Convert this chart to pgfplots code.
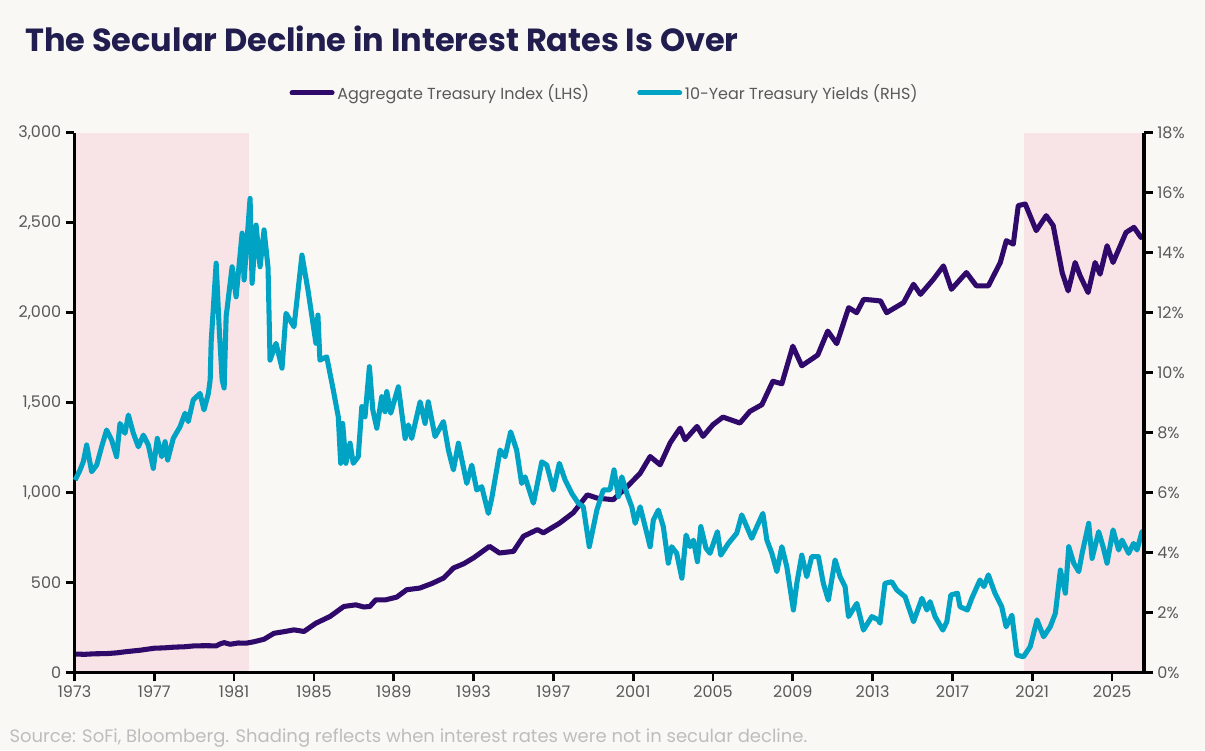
\documentclass[border=0pt]{standalone}
\usepackage{fontspec}
\setmainfont{Poppins}
\usepackage{pgfplots}
\pgfplotsset{compat=1.18}
\definecolor{bg}{HTML}{F9F8F5}
\definecolor{shadecol}{HTML}{F8E4E6}
\definecolor{purp}{HTML}{300A6A}
\definecolor{tealc}{HTML}{00A3C4}
\definecolor{titlecol}{HTML}{211D4E}
\definecolor{txtgray}{HTML}{595959}
\definecolor{srcgray}{HTML}{BDBDBD}

\pgfplotstableread{
x y
1973.0 104
1973.5 102
1974.0 105
1974.6 106
1975.1 110
1975.6 117
1976.3 125
1977.0 136
1977.5 138
1978.0 142
1978.5 144
1979.0 149
1979.6 150
1980.1 149
1980.3 160
1980.5 167
1980.8 158
1981.2 165
1981.6 164
1982.0 172
1982.5 186
1983.0 219
1983.5 228
1984.0 238
1984.5 229
1985.1 275
1985.8 312
1986.5 368
1987.1 377
1987.5 365
1987.8 368
1988.1 405
1988.6 405
1989.15 420
1989.65 461
1990.3 470
1990.9 495
1991.5 526
1992.0 582
1992.5 605
1993.0 638
1993.8 702
1994.3 665
1995.0 674
1995.5 758
1996.2 795
1996.5 777
1997.3 830
1998.0 889
1998.7 988
1999.2 970
2000.0 961
2000.7 1034
2001.35 1108
2001.85 1201
2002.35 1155
2002.85 1276
2003.35 1359
2003.6 1294
2004.2 1368
2004.5 1313
2005.0 1378
2005.5 1420
2006.35 1387
2006.85 1452
2007.45 1489
2008.0 1619
2008.45 1605
2009.0 1814
2009.45 1705
2010.25 1765
2010.75 1898
2011.2 1828
2011.8 2028
2012.2 2000
2012.55 2074
2013.0 2070
2013.4 2065
2013.7 2000
2014.55 2056
2015.05 2158
2015.4 2102
2016.05 2186
2016.55 2260
2016.95 2130
2017.7 2223
2018.2 2149
2018.8 2149
2019.4 2279
2019.7 2400
2020.05 2381
2020.3 2595
2020.65 2604
2021.2 2456
2021.7 2539
2022.05 2484
2022.5 2223
2022.8 2121
2023.15 2279
2023.4 2205
2023.8 2112
2024.15 2279
2024.4 2214
2024.75 2372
2025.05 2279
2025.7 2446
2026.1 2474
2026.45 2418
2026.6 2430
}\indextable

\pgfplotstableread{
x y
1973.03 6.42
1973.28 6.76
1973.44 7.03
1973.61 7.59
1973.86 6.70
1974.11 6.92
1974.36 7.53
1974.61 8.09
1974.86 7.76
1975.11 7.20
1975.28 8.31
1975.53 7.98
1975.70 8.59
1975.95 7.98
1976.20 7.53
1976.45 7.92
1976.70 7.59
1976.95 6.81
1977.15 7.81
1977.37 7.20
1977.54 7.70
1977.67 7.09
1977.95 7.81
1978.29 8.20
1978.54 8.65
1978.70 8.37
1978.95 9.09
1979.29 9.31
1979.49 8.76
1979.71 9.31
1979.80 9.76
1979.85 11.03
1980.10 13.65
1980.25 11.50
1980.40 9.76
1980.50 9.49
1980.60 11.87
1980.90 13.53
1981.10 12.53
1981.40 14.65
1981.50 13.09
1981.80 15.81
1981.90 12.98
1982.10 14.92
1982.30 13.53
1982.50 14.76
1982.70 13.50
1982.80 10.42
1983.10 10.98
1983.40 10.15
1983.60 11.98
1984.00 11.53
1984.40 13.92
1984.70 12.76
1985.10 10.98
1985.20 11.92
1985.30 10.42
1985.64 10.53
1985.97 9.42
1986.22 8.53
1986.34 6.98
1986.44 8.31
1986.60 6.98
1986.81 7.65
1986.97 6.98
1987.22 7.20
1987.40 8.87
1987.56 8.53
1987.78 10.20
1987.95 8.76
1988.15 8.15
1988.40 9.20
1988.56 8.70
1988.65 9.37
1988.85 8.65
1989.23 9.53
1989.57 7.81
1989.73 8.26
1989.90 7.81
1990.32 9.03
1990.57 8.31
1990.73 9.03
1991.07 7.87
1991.49 8.37
1991.74 7.42
1991.99 6.76
1992.24 7.65
1992.66 6.31
1992.91 6.92
1993.16 6.09
1993.41 6.20
1993.74 5.31
1993.91 5.81
1994.33 7.42
1994.58 7.20
1994.86 8.03
1995.16 7.42
1995.41 6.31
1995.58 6.53
1996.00 5.65
1996.42 7.03
1996.67 6.92
1997.00 6.09
1997.30 6.98
1997.59 6.42
1997.92 5.98
1998.25 5.65
1998.50 5.53
1998.80 4.20
1999.18 5.42
1999.50 6.09
1999.84 6.10
2000.04 6.76
2000.26 5.87
2000.43 6.53
2000.68 5.98
2000.93 5.53
2001.10 4.98
2001.35 5.53
2001.60 4.87
2001.85 4.20
2002.01 5.09
2002.26 5.42
2002.51 4.87
2002.76 3.65
2002.93 4.20
2003.18 3.98
2003.44 3.15
2003.65 4.59
2003.85 4.20
2004.02 4.42
2004.22 3.70
2004.39 4.87
2004.65 4.15
2004.85 3.98
2005.22 4.70
2005.39 3.92
2005.77 4.31
2006.19 4.65
2006.44 5.26
2006.69 4.87
2006.94 4.48
2007.20 4.87
2007.50 5.31
2007.70 4.42
2007.95 3.98
2008.20 3.37
2008.45 4.20
2008.70 3.53
2009.03 2.09
2009.20 2.98
2009.45 3.92
2009.70 3.20
2009.95 3.87
2010.28 3.87
2010.53 2.98
2010.78 2.42
2011.12 3.76
2011.37 3.20
2011.62 2.87
2011.79 1.87
2012.21 2.31
2012.54 1.42
2012.96 1.87
2013.29 1.76
2013.37 1.65
2013.62 2.98
2013.96 3.03
2014.21 2.76
2014.63 2.53
2015.05 1.70
2015.47 2.48
2015.72 2.09
2015.88 2.37
2016.13 1.87
2016.52 1.42
2016.72 1.70
2016.92 2.59
2017.25 2.65
2017.38 2.20
2017.75 2.09
2017.97 2.48
2018.38 3.09
2018.58 2.87
2018.80 3.26
2019.13 2.65
2019.47 2.20
2019.69 1.53
2019.98 1.92
2020.23 0.59
2020.56 0.53
2020.90 0.87
2021.24 1.76
2021.57 1.20
2021.90 1.53
2022.16 1.98
2022.41 3.42
2022.66 2.65
2022.83 4.20
2023.08 3.65
2023.33 3.37
2023.50 3.98
2023.83 4.98
2024.00 3.81
2024.33 4.70
2024.55 4.20
2024.75 3.65
2025.05 4.76
2025.33 4.09
2025.50 4.42
2025.83 3.98
2026.08 4.31
2026.25 4.09
2026.50 4.70
2026.60 4.62
}\yieldtable

\begin{document}
\begin{tikzpicture}[x=1pt,y=1pt]
\fill[bg] (0,0) rectangle (903.75,562.5);
\node[anchor=base west, inner sep=0pt, text=titlecol, font=\bfseries\fontsize{24}{28}\selectfont] at (18.75,523.5) {The Secular Decline in Interest Rates Is Over};
\node[anchor=base west, inner sep=0pt, text=srcgray, font=\fontsize{13.5}{16}\selectfont] at (7,6) {Source: SoFi, Bloomberg. Shading reflects when interest rates were not in secular decline.};

\begin{axis}[
  at={(55.875pt,57.975pt)}, anchor=south west,
  scale only axis, width=802.1pt, height=405pt,
  xmin=1973, xmax=2026.6, ymin=0, ymax=3000,
  axis x line*=bottom, axis y line*=left,
  axis on top,
  axis line style={-, line width=2.5pt, black},
  xtick={1973,1977,...,2025}, ytick={0,500,...,3000},
  tick align=outside, major tick length=6.5pt,
  xtick style={line width=2pt, black},
  ytick style={line width=2pt, black},
  x tick label style={/pgf/number format/1000 sep={}},
  y tick label style={/pgf/number format/1000 sep={,}},
  /pgf/number format/assume math mode=true,
  ticklabel style={font=\fontsize{12}{14}\selectfont, text=txtgray},
  clip=false,
]
\fill[shadecol] (axis cs:1973,0) rectangle (axis cs:1981.75,3000);
\fill[shadecol] (axis cs:2020.6,0) rectangle (axis cs:2026.6,3000);
\addplot[purp, line width=3.8pt, line join=round] table[x=x,y=y] {\indextable};
\end{axis}

\begin{axis}[
  at={(55.875pt,57.975pt)}, anchor=south west,
  scale only axis, width=802.1pt, height=405pt,
  xmin=1973, xmax=2026.6, ymin=0, ymax=18,
  hide x axis,
  axis y line*=right,
  axis on top,
  axis line style={-, line width=2.5pt, black},
  ytick={0,2,...,18},
  yticklabel={\pgfmathprintnumber{\tick}\%},
  tick align=outside, major tick length=6.5pt,
  ytick style={line width=2pt, black},
  /pgf/number format/assume math mode=true,
  ticklabel style={font=\fontsize{12}{14}\selectfont, text=txtgray},
  legend style={at={(0.496,1)}, anchor=center, yshift=29.8pt, draw=none, fill=none,
    legend columns=2, font=\fontsize{12}{14}\selectfont, text=txtgray,
    /tikz/every even column/.append style={column sep=34pt}},
  legend image code/.code={\draw[#1, line cap=round] (0pt,0pt) -- (30pt,0pt);},
  clip=false,
]
\addlegendimage{purp, line width=3.8pt}
\addlegendentry{Aggregate Treasury Index (LHS)}
\addplot[tealc, line width=3.8pt, line join=round] table[x=x,y=y] {\yieldtable};
\addlegendentry{10-Year Treasury Yields (RHS)}
\end{axis}
\end{tikzpicture}
\end{document}
